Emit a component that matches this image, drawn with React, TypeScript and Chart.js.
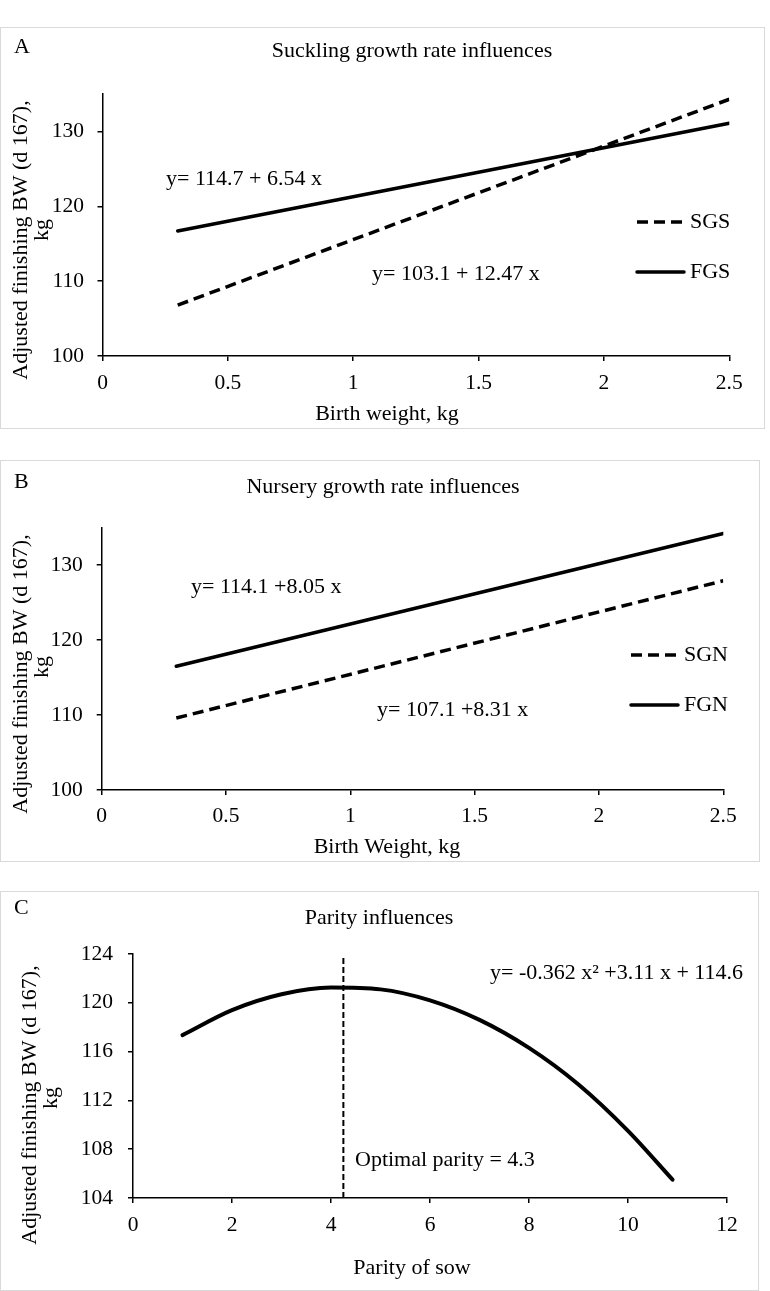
import React, { useEffect, useRef } from "react";
import { Chart, registerables } from "chart.js";

Chart.register(...registerables);

// ---------- data ----------
const BIRTH_WEIGHT_X = [0.3, 2.5];
const SGS_Y = [106.8, 134.3];
const FGS_Y = [116.7, 131.1];
const SGN_Y = [109.6, 127.9];
const FGN_Y = [116.5, 134.2];

const PARITY_X = [1, 2, 3, 4, 5, 6, 7, 8, 9, 10, 10.9];
const PARITY_Y = [117.35, 119.4, 120.7, 121.25, 121.1, 120.2, 118.6, 116.3, 113.3, 109.5, 105.5];
const OPTIMAL_X = [4.25, 4.25];
const OPTIMAL_Y = [104, 123.7];

const BW_X_TICKS = [0, 0.5, 1, 1.5, 2, 2.5];
const BW_Y_TICKS = [100, 110, 120, 130];
const PARITY_X_TICKS = [0, 2, 4, 6, 8, 10, 12];
const PARITY_Y_TICKS = [104, 108, 112, 116, 120, 124];

const Y_TITLE = ["Adjusted finishing BW (d 167),", "kg"];
const TITLE_A = "Suckling growth rate influences";
const TITLE_B = "Nursery growth rate influences";
const TITLE_C = "Parity influences";
const EQ_FGS = "y= 114.7 + 6.54 x";
const EQ_SGS = "y= 103.1 + 12.47 x";
const EQ_FGN = "y= 114.1 +8.05 x";
const EQ_SGN = "y= 107.1 +8.31 x";
const EQ_PARITY = "y= -0.362 x\u00B2 +3.11 x + 114.6";
const NOTE_OPTIMAL = "Optimal parity = 4.3";

// ---------- helpers ----------
const SERIF = '"Liberation Serif", "Times New Roman", serif';
const TEXT_FONT = `22px ${SERIF}`;

const pts = (xs: number[], ys: number[]) => xs.map((x, i) => ({ x, y: ys[i] }));

type Note = { text: string; x: number; y: number; align?: CanvasTextAlign };

type PanelSpec = {
  top: number;
  width: number;
  height: number;
  area: { left: number; right: number; top: number; bottom: number };
  xMin: number;
  xMax: number;
  yMin: number;
  yMax: number;
  xTicks: number[];
  yTicks: number[];
  xTickPad: number;
  yTickPad: number;
  notes: Note[];
  yTitle: { x: number; y: number }[];
  legend?: { x0: number; x1: number; textX: number; ys: number[] };
  datasets: any[];
};

const dashedStyle = { borderColor: "#000", borderWidth: 3.5, borderDash: [11, 6], borderCapStyle: "butt" };
const solidStyle = { borderColor: "#000", borderWidth: 3.5, borderDash: [], borderCapStyle: "round" };

const PANELS: PanelSpec[] = [
  {
    top: 27,
    width: 765,
    height: 402,
    area: { left: 102.5, right: 729.3, top: 94, bottom: 356 },
    xMin: 0,
    xMax: 2.5,
    yMin: 100,
    yMax: 135,
    xTicks: BW_X_TICKS,
    yTicks: BW_Y_TICKS,
    xTickPad: 11.75,
    yTickPad: 13.5,
    notes: [
      { text: "A", x: 14, y: 47.5 },
      { text: TITLE_A, x: 412, y: 51, align: "center" },
      { text: EQ_FGS, x: 166, y: 179 },
      { text: EQ_SGS, x: 372, y: 274 },
      { text: "Birth weight, kg", x: 387, y: 414, align: "center" },
    ],
    yTitle: [
      { x: 21, y: 240 },
      { x: 42, y: 230 },
    ],
    legend: { x0: 637, x1: 684, textX: 690, ys: [222, 272] },
    datasets: [
      { label: "SGS", data: pts(BIRTH_WEIGHT_X, SGS_Y), ...dashedStyle },
      { label: "FGS", data: pts(BIRTH_WEIGHT_X, FGS_Y), ...solidStyle },
    ],
  },
  {
    top: 460,
    width: 760,
    height: 402,
    area: { left: 101.7, right: 723.3, top: 527.5, bottom: 790 },
    xMin: 0,
    xMax: 2.5,
    yMin: 100,
    yMax: 135,
    xTicks: BW_X_TICKS,
    yTicks: BW_Y_TICKS,
    xTickPad: 10.25,
    yTickPad: 14,
    notes: [
      { text: "B", x: 14, y: 482 },
      { text: TITLE_B, x: 383, y: 487, align: "center" },
      { text: EQ_FGN, x: 191, y: 587 },
      { text: EQ_SGN, x: 377, y: 710 },
      { text: "Birth Weight, kg", x: 387, y: 847, align: "center" },
    ],
    yTitle: [
      { x: 21, y: 674 },
      { x: 42, y: 667 },
    ],
    legend: { x0: 631, x1: 678, textX: 684, ys: [655, 705] },
    datasets: [
      { label: "SGN", data: pts(BIRTH_WEIGHT_X, SGN_Y), ...dashedStyle },
      { label: "FGN", data: pts(BIRTH_WEIGHT_X, FGN_Y), ...solidStyle },
    ],
  },
  {
    top: 891,
    width: 759,
    height: 400,
    area: { left: 133, right: 727, top: 954, bottom: 1198 },
    xMin: 0,
    xMax: 12,
    yMin: 104,
    yMax: 124,
    xTicks: PARITY_X_TICKS,
    yTicks: PARITY_Y_TICKS,
    xTickPad: 11.25,
    yTickPad: 15,
    notes: [
      { text: "C", x: 14, y: 908.5 },
      { text: TITLE_C, x: 379, y: 918, align: "center" },
      { text: EQ_PARITY, x: 490, y: 973.5 },
      { text: NOTE_OPTIMAL, x: 355, y: 1160 },
      { text: "Parity of sow", x: 412, y: 1268, align: "center" },
    ],
    yTitle: [
      { x: 30, y: 1105 },
      { x: 51, y: 1098 },
    ],
    datasets: [
      {
        label: "Parity",
        data: pts(PARITY_X, PARITY_Y),
        borderColor: "#000",
        borderWidth: 4,
        borderCapStyle: "round",
        cubicInterpolationMode: "monotone",
      },
      {
        label: "Optimal parity",
        data: pts(OPTIMAL_X, OPTIMAL_Y),
        borderColor: "#000",
        borderWidth: 2,
        borderDash: [6, 3],
      },
    ],
  },
];

function Panel({ spec }: { spec: PanelSpec }) {
  const ref = useRef<HTMLCanvasElement>(null);

  useEffect(() => {
    const canvas = ref.current;
    if (!canvas) return;
    const { top, width: W, height: H, area } = spec;

    const decor = {
      id: "panelDecor",
      beforeDraw(chart: any) {
        const ctx = chart.ctx as CanvasRenderingContext2D;
        ctx.save();
        ctx.fillStyle = "#fff";
        ctx.fillRect(0, 0, W, H);
        ctx.strokeStyle = "#d9d9d9";
        ctx.lineWidth = 1;
        ctx.strokeRect(0.5, 0.5, W - 1, H - 1);
        ctx.restore();
      },
      afterDraw(chart: any) {
        const ctx = chart.ctx as CanvasRenderingContext2D;
        ctx.save();
        ctx.fillStyle = "#000";
        ctx.font = TEXT_FONT;
        ctx.textBaseline = "middle";
        for (const n of spec.notes) {
          ctx.textAlign = n.align ?? "left";
          ctx.fillText(n.text, n.x, n.y - top);
        }
        // y axis title (rotated, two lines)
        Y_TITLE.forEach((t, i) => {
          const p = spec.yTitle[i];
          ctx.save();
          ctx.translate(p.x, p.y - top);
          ctx.rotate(-Math.PI / 2);
          ctx.textAlign = "center";
          ctx.fillText(t, 0, 0);
          ctx.restore();
        });
        // legend
        if (spec.legend) {
          const lg = spec.legend;
          chart.data.datasets.forEach((ds: any, i: number) => {
            const y = lg.ys[i] - top;
            ctx.save();
            ctx.strokeStyle = ds.borderColor;
            ctx.lineWidth = ds.borderWidth;
            ctx.lineCap = ds.borderDash && ds.borderDash.length ? "butt" : "round";
            ctx.setLineDash(ds.borderDash || []);
            ctx.beginPath();
            ctx.moveTo(lg.x0, y);
            ctx.lineTo(lg.x1, y);
            ctx.stroke();
            ctx.restore();
            ctx.textAlign = "left";
            ctx.fillText(ds.label, lg.textX, y);
          });
        }
        ctx.restore();
      },
    };

    const tickFont = { family: SERIF, size: 21.5, lineHeight: 1 };
    const gridOpts = {
      drawOnChartArea: false,
      drawTicks: true,
      tickLength: 5,
      color: "#000",
      tickColor: "#000",
      tickWidth: 1.5,
      lineWidth: 1.5,
    };
    const borderOpts = { display: true, color: "#000", width: 1.5 };

    const chart = new Chart(canvas, {
      type: "line",
      data: { datasets: spec.datasets },
      plugins: [decor],
      options: {
        responsive: false,
        maintainAspectRatio: false,
        animation: false,
        devicePixelRatio: 1,
        layout: {
          padding: { left: 0, top: area.top - top, right: W - area.right, bottom: 0 },
        },
        elements: { point: { radius: 0, hoverRadius: 0 }, line: { tension: 0 } },
        plugins: {
          legend: { display: false },
          title: { display: false },
          tooltip: { enabled: false },
        },
        events: [],
        scales: {
          x: {
            type: "linear",
            min: spec.xMin,
            max: spec.xMax,
            afterBuildTicks: (s: any) => {
              s.ticks = spec.xTicks.map((v) => ({ value: v }));
            },
            afterFit: (s: any) => {
              s.height = H - (area.bottom - top);
            },
            grid: gridOpts,
            border: borderOpts,
            ticks: {
              font: tickFont,
              color: "#000",
              padding: spec.xTickPad,
              maxRotation: 0,
              minRotation: 0,
              autoSkip: false,
              callback: (v: any) => String(v),
            },
          },
          y: {
            type: "linear",
            min: spec.yMin,
            max: spec.yMax,
            afterBuildTicks: (s: any) => {
              s.ticks = spec.yTicks.map((v) => ({ value: v }));
            },
            afterFit: (s: any) => {
              s.width = area.left;
            },
            grid: gridOpts,
            border: borderOpts,
            ticks: {
              font: tickFont,
              color: "#000",
              padding: spec.yTickPad,
              autoSkip: false,
              callback: (v: any) => String(v),
            },
          },
        },
      } as any,
    });

    return () => chart.destroy();
  }, [spec]);

  return (
    <canvas
      ref={ref}
      width={spec.width}
      height={spec.height}
      style={{
        position: "absolute",
        left: 0,
        top: spec.top,
        width: spec.width,
        height: spec.height,
        display: "block",
      }}
    />
  );
}

export default function App() {
  return (
    <div
      style={{
        position: "absolute",
        left: 0,
        top: 0,
        width: 770,
        height: 1291,
        background: "#fff",
        overflow: "hidden",
      }}
    >
      {PANELS.map((p, i) => (
        <Panel key={i} spec={p} />
      ))}
    </div>
  );
}
